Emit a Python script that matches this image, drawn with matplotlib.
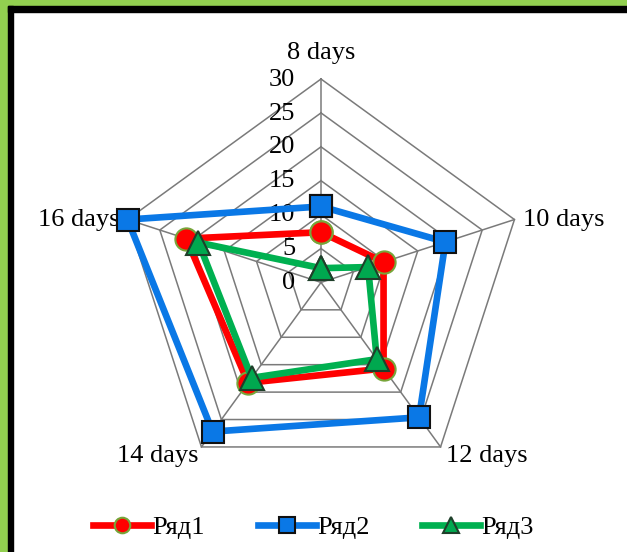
import numpy as np
import matplotlib
matplotlib.use("Agg")
import matplotlib.pyplot as plt
from matplotlib.patches import Rectangle

categories = ["8 days", "10 days", "12 days", "14 days", "16 days"]
series_names = ["Ряд1", "Ряд2", "Ряд3"]
row1 = [7.4, 9.7, 15.7, 18.3, 20.9]
row2 = [11.2, 19.3, 24.6, 27.2, 30.0]
row3 = [2.1, 7.3, 14.0, 17.4, 19.0]
ticks = [0, 5, 10, 15, 20, 25, 30]

W, H = 627, 552
fig = plt.figure(figsize=(W / 100, H / 100), dpi=100)
plt.rcParams['font.family'] = ['Liberation Serif', 'DejaVu Serif']
fs = 19

# axes fills figure, data units mapped so centre sits at (321, 282) px
scale = 203.4 / 30
cx, cy = 321, 282.4
ax = fig.add_axes([0, 0, 1, 1])
ax.set_xlim(-cx / scale, (W - cx) / scale)
ax.set_ylim(-(H - cy) / scale, cy / scale)
ax.axis("off")

ang = np.deg2rad(90 - 72 * np.arange(len(categories)))
ux, uy = np.cos(ang), np.sin(ang)

grid = "#7a7a7a"
for t in ticks[1:]:
    ax.plot(np.append(ux, ux[0]) * t, np.append(uy, uy[0]) * t, color=grid, lw=1.1, zorder=1)
for i in range(len(categories)):
    ax.plot([0, ux[i] * 30], [0, uy[i] * 30], color=grid, lw=1.1, zorder=1)

for t in ticks:
    ax.text(-3.8, t - 0.1, str(t), ha="right", va="center", fontsize=fs)

lab_off = [(0, 3.9, "center", "center"), (1.2, 0, "left", "center"),
           (0.8, -1.3, "left", "center"), (-0.4, -1.3, "right", "center"),
           (-1.2, 0, "right", "center")]
for i, c in enumerate(categories):
    dx, dy, ha, va = lab_off[i]
    ax.text(ux[i] * 30 + dx, uy[i] * 30 + dy, c, ha=ha, va=va, fontsize=fs)

styles = [
    dict(color="#ff0000", marker="o", ms=16, mfc="#ff0000", mec="#77a53a", mew=1.5),
    dict(color="#0a78e6", marker="s", ms=16, mfc="#0a78e6", mec="#111111", mew=1.5),
    dict(color="#00b050", marker="^", ms=17, mfc="#00a84f", mec="#1f3f2a", mew=1.5),
]
for name, vals, st in zip(series_names, [row1, row2, row3], styles):
    v = np.array(vals)
    ax.plot(np.append(ux * v, ux[0] * v[0]), np.append(uy * v, uy[0] * v[0]),
            lw=4.8, label=name, zorder=3, solid_joinstyle="miter", **st)

fig.legend(loc="center", bbox_to_anchor=(0.5, 1 - 527 / H), ncol=3, frameon=False,
           fontsize=fs, handlelength=2.2, columnspacing=2.0, handletextpad=0.05,
           markerscale=0.7)

# frame: green outer band and black inner band
fig.patches.append(Rectangle((0, 1 - 6 / H), 1, 6 / H, transform=fig.transFigure, color="#92d050", zorder=10))
fig.patches.append(Rectangle((0, 0), 8 / W, 1, transform=fig.transFigure, color="#92d050", zorder=10))
fig.patches.append(Rectangle((8 / W, 1 - 12 / H), 1, 6 / H, transform=fig.transFigure, color="black", zorder=11))
fig.patches.append(Rectangle((8 / W, 0), 5 / W, 1 - 6 / H, transform=fig.transFigure, color="black", zorder=11))

fig.savefig("out.png", dpi=100)
